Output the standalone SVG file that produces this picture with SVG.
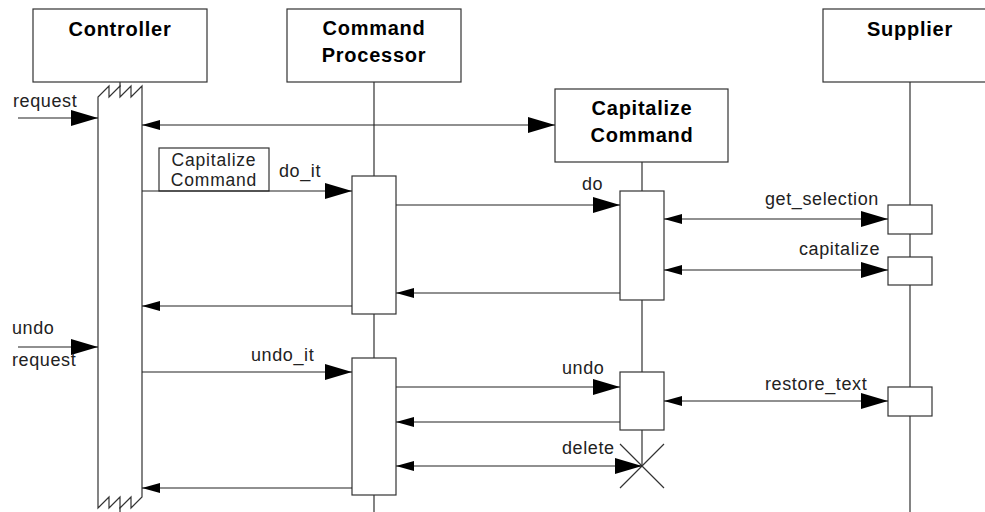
<svg xmlns="http://www.w3.org/2000/svg" width="985" height="512" viewBox="0 0 985 512">
<style>
.box{fill:#fff;stroke:#333;stroke-width:1.2}
.life{stroke:#333;stroke-width:1.2;fill:none}
.msg{stroke:#222;stroke-width:1.2;fill:none}
.hd{font-family:"Liberation Sans",Arial,Helvetica,sans-serif;font-weight:bold;font-size:20px;letter-spacing:0.75px;fill:#000;text-anchor:middle}
.lb{font-family:"Liberation Sans",Arial,Helvetica,sans-serif;font-size:18px;letter-spacing:0.6px;fill:#222}
.pb{font-family:"Liberation Sans",Arial,Helvetica,sans-serif;font-size:17.5px;letter-spacing:0.8px;fill:#222;text-anchor:middle}
</style>
<defs>
<marker id="big" viewBox="0 0 27 16" refX="27" refY="8" markerWidth="27" markerHeight="16" markerUnits="userSpaceOnUse" orient="auto-start-reverse"><path d="M0,0 L27,8 L0,16 z" fill="#000"/></marker>
<marker id="small" viewBox="0 0 18 10" refX="18" refY="5" markerWidth="18" markerHeight="10" markerUnits="userSpaceOnUse" orient="auto-start-reverse"><path d="M0,0 L18,5 L0,10 z" fill="#000"/></marker>
</defs>
<rect width="985" height="512" fill="#fff"/>

<g id="lifelines">
<path class="life" d="M120,82 V87 M120,507 V512"/>
<path class="life" d="M374,82 V176 M374,314 V358 M374,495 V512"/>
<path class="life" d="M642,162 V191 M642,300 V372 M642,430 V466"/>
<path class="life" d="M910,82 V205 M910,234 V257 M910,285 V387 M910,416 V512"/>
</g>

<g id="controller">
<rect class="box" x="33" y="9" width="174" height="73"/>
<text class="hd" x="120" y="36">Controller</text>
<path class="box" d="M98,508 V97 L109,86 V97 L120,86 V97 L131,86 V97 L142,86 V497 L131,508 V497 L120,508 V497 L109,508 V497 L98,508 z"/>
</g>

<g id="command-processor">
<rect class="box" x="287" y="9" width="174" height="73"/>
<text class="hd" x="374" y="35">Command</text>
<text class="hd" x="374" y="62">Processor</text>
<rect class="box" x="352" y="176" width="44" height="138"/>
<rect class="box" x="352" y="358" width="44" height="137"/>
</g>

<g id="capitalize-command">
<rect class="box" x="555" y="89" width="173" height="73"/>
<text class="hd" x="642" y="115">Capitalize</text>
<text class="hd" x="642" y="142">Command</text>
<rect class="box" x="620" y="191" width="44" height="109"/>
<rect class="box" x="620" y="372" width="44" height="58"/>
<path class="life" d="M620,444 L664,488 M664,444 L620,488"/>
</g>

<g id="supplier">
<rect class="box" x="823" y="9" width="174" height="73"/>
<text class="hd" x="910" y="36">Supplier</text>
<rect class="box" x="888" y="205" width="44" height="29"/>
<rect class="box" x="888" y="257" width="44" height="28"/>
<rect class="box" x="888" y="387" width="44" height="29"/>
</g>

<g id="param-box">
<rect class="box" x="159" y="148" width="110" height="43"/>
<text class="pb" x="214" y="165.5">Capitalize</text>
<text class="pb" x="214" y="185.5">Command</text>
</g>

<g id="connectors">
<line class="msg" x1="18" y1="118" x2="98" y2="118" marker-end="url(#big)"/>
<line class="msg" x1="142" y1="125" x2="555" y2="125" marker-start="url(#small)" marker-end="url(#big)"/>
<line class="msg" x1="142" y1="191" x2="352" y2="191" marker-end="url(#big)"/>
<line class="msg" x1="396" y1="205" x2="620" y2="205" marker-end="url(#big)"/>
<line class="msg" x1="664" y1="219" x2="888" y2="219" marker-start="url(#small)" marker-end="url(#big)"/>
<line class="msg" x1="664" y1="270" x2="888" y2="270" marker-start="url(#small)" marker-end="url(#big)"/>
<line class="msg" x1="620" y1="293" x2="396" y2="293" marker-end="url(#small)"/>
<line class="msg" x1="352" y1="306" x2="142" y2="306" marker-end="url(#small)"/>
<line class="msg" x1="18" y1="347" x2="98" y2="347" marker-end="url(#big)"/>
<line class="msg" x1="142" y1="372" x2="352" y2="372" marker-end="url(#big)"/>
<line class="msg" x1="396" y1="387" x2="620" y2="387" marker-end="url(#big)"/>
<line class="msg" x1="664" y1="401" x2="888" y2="401" marker-start="url(#small)" marker-end="url(#big)"/>
<line class="msg" x1="620" y1="422" x2="396" y2="422" marker-end="url(#small)"/>
<line class="msg" x1="396" y1="466" x2="642" y2="466" marker-start="url(#small)" marker-end="url(#big)"/>
<line class="msg" x1="352" y1="488" x2="142" y2="488" marker-end="url(#small)"/>
</g>

<g id="labels">
<text class="lb" x="13" y="107">request</text>
<text class="lb" x="279" y="177">do_it</text>
<text class="lb" x="582" y="190">do</text>
<text class="lb" x="765" y="205">get_selection</text>
<text class="lb" x="799" y="255">capitalize</text>
<text class="lb" x="12" y="334">undo</text>
<text class="lb" x="12" y="366">request</text>
<text class="lb" x="251" y="361">undo_it</text>
<text class="lb" x="562" y="374">undo</text>
<text class="lb" x="765" y="390">restore_text</text>
<text class="lb" x="562" y="454">delete</text>
</g>
</svg>
